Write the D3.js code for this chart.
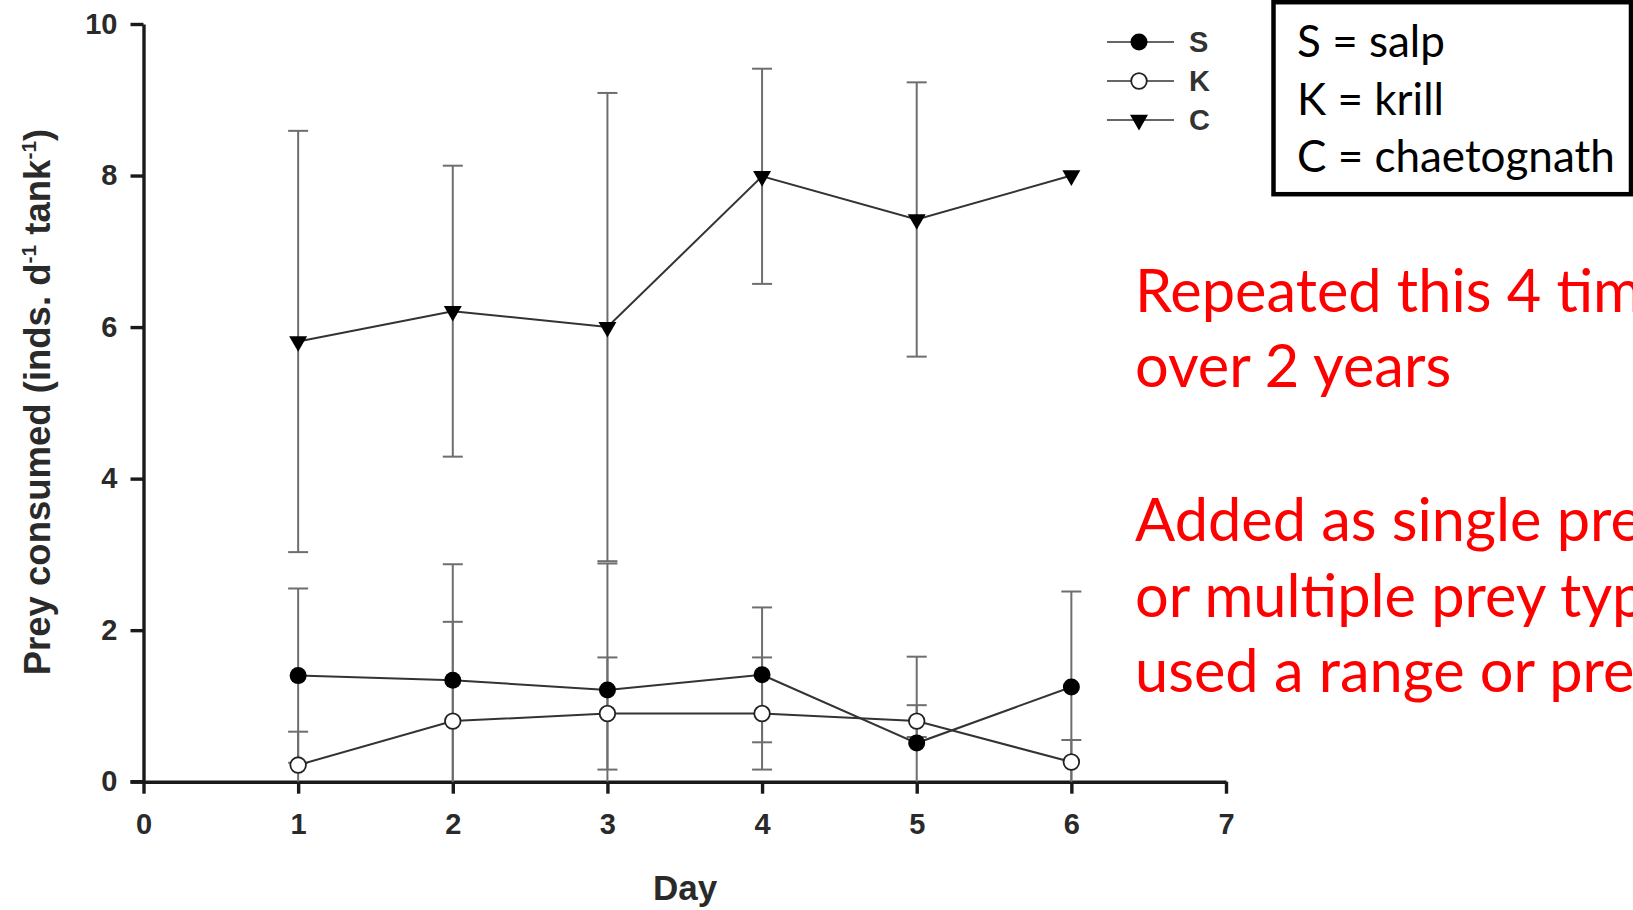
<!DOCTYPE html>
<html>
<head>
<meta charset="utf-8">
<script src="https://cdn.jsdelivr.net/npm/d3@7"></script>
<style>
  html, body { margin: 0; padding: 0; background: #fff; overflow: hidden; }
  svg { display: block; }
</style>
</head>
<body>
<svg id="chart" width="1633" height="910"></svg>
<script>
// ---- data ----
const days = [1, 2, 3, 4, 5, 6];
const salp = [1.40, 1.34, 1.21, 1.41, 0.51, 1.25];
const salpErr = [1.15, 1.53, 1.67, 0.89, 1.14, 1.26];
const krill = [0.22, 0.80, 0.90, 0.90, 0.80, 0.26];
const krillErr = [0.44, 1.31, 0.74, 0.74, 0.21, 0.29];
const chaet = [5.81, 6.21, 6.00, 7.99, 7.42, 8.00];
const chaetErr = [2.78, 1.92, 3.09, 1.42, 1.81, 0];
const xTicks = [0, 1, 2, 3, 4, 5, 6, 7];
const yTicks = [0, 2, 4, 6, 8, 10];
const legendKeys = ["S", "K", "C"];
const boxLines = ["S = salp", "K = krill", "C = chaetognath"];
const noteLines1 = ["Repeated this 4 times", "over 2 years"];
const noteLines2 = ["Added as single prey", "or multiple prey types", "used a range or prey"];

const svg = d3.select("#chart");
const x = d3.scaleLinear().domain([0, 7]).range([143.5, 1226]);
const y = d3.scaleLinear().domain([0, 10]).range([781.7, 24]);

const series = [
  { key: "S", vals: salp, errs: salpErr, type: "filled" },
  { key: "K", vals: krill, errs: krillErr, type: "open" },
  { key: "C", vals: chaet, errs: chaetErr, type: "tri" }
];

const axisFont = "'Liberation Sans', Arial, sans-serif";

// ---- axes ----
const yAxis = svg.append("g").attr("transform", `translate(${x(0)},0)`)
  .call(d3.axisLeft(y).tickValues(yTicks).tickSize(13).tickSizeOuter(0).tickPadding(13).tickFormat(d3.format("d")));
const xAxis = svg.append("g").attr("transform", `translate(0,${y(0)})`)
  .call(d3.axisBottom(x).tickValues(xTicks).tickSize(12).tickSizeOuter(0).tickPadding(20).tickFormat(d3.format("d")));
[yAxis, xAxis].forEach(a => {
  a.select(".domain").attr("stroke", "#1a1a1a").attr("stroke-width", 3.4);
  a.selectAll(".tick line").attr("stroke", "#1a1a1a").attr("stroke-width", 3.4);
  a.selectAll(".tick text").attr("fill", "#2a2a2a").style("font-family", axisFont)
    .style("font-weight", "bold").style("font-size", "29px");
});
// extend x-axis to the left so it meets the y-axis ticks
svg.append("line").attr("x1", x(0) - 13).attr("x2", x(0)).attr("y1", y(0)).attr("y2", y(0))
  .attr("stroke", "#1a1a1a").attr("stroke-width", 3.4);

// axis titles
svg.append("text").attr("x", 685).attr("y", 900).attr("text-anchor", "middle")
  .style("font-family", axisFont).style("font-weight", "bold").style("font-size", "35px")
  .attr("fill", "#2a2a2a").text("Day");

const yl = svg.append("text").attr("transform", "translate(50,402) rotate(-90)").attr("text-anchor", "middle")
  .style("font-family", axisFont).style("font-weight", "bold").style("font-size", "36.5px").attr("fill", "#2a2a2a");
yl.append("tspan").text("Prey consumed (inds. d");
yl.append("tspan").attr("dy", -14).style("font-size", "21px").text("-1");
yl.append("tspan").attr("dy", 14).text(" tank");
yl.append("tspan").attr("dy", -14).style("font-size", "21px").text("-1");
yl.append("tspan").attr("dy", 14).text(")");

// ---- error bars ----
const capW = 10;
series.forEach(s => {
  const g = svg.append("g").attr("stroke", "#6e6e6e").attr("stroke-width", 2).attr("fill", "none");
  days.forEach((d, i) => {
    const v = s.vals[i], e = s.errs[i];
    if (e <= 0) return;
    const lo = Math.max(0, v - e), hi = v + e;
    g.append("line").attr("x1", x(d)).attr("x2", x(d)).attr("y1", y(lo)).attr("y2", y(hi));
    g.append("line").attr("x1", x(d) - capW).attr("x2", x(d) + capW).attr("y1", y(hi)).attr("y2", y(hi));
    if (v - e >= 0)
      g.append("line").attr("x1", x(d) - capW).attr("x2", x(d) + capW).attr("y1", y(v - e)).attr("y2", y(v - e));
  });
});

// ---- lines ----
const line = d3.line().x(d => x(d[0])).y(d => y(d[1]));
series.forEach(s => {
  svg.append("path").datum(days.map((d, i) => [d, s.vals[i]]))
    .attr("d", line).attr("fill", "none").attr("stroke", "#333").attr("stroke-width", 2);
});

// ---- markers ----
const tri = d3.symbol(d3.symbolTriangle, 140);
function drawMarker(g, type, cx, cy) {
  if (type === "filled") {
    g.append("circle").attr("cx", cx).attr("cy", cy).attr("r", 8.5).attr("fill", "#000");
  } else if (type === "open") {
    g.append("circle").attr("cx", cx).attr("cy", cy).attr("r", 7.8).attr("fill", "#fff")
      .attr("stroke", "#222").attr("stroke-width", 1.8);
  } else {
    g.append("path").attr("d", tri()).attr("fill", "#000")
      .attr("transform", `translate(${cx},${cy}) rotate(180)`);
  }
}
series.forEach(s => {
  const g = svg.append("g");
  days.forEach((d, i) => drawMarker(g, s.type, x(d), y(s.vals[i])));
});

// ---- legend ----
const legY = d3.scalePoint().domain(legendKeys).range([42, 120]);
legendKeys.forEach((k, i) => {
  const s = series[i];
  const cy = legY(k);
  svg.append("line").attr("x1", 1107).attr("x2", 1174).attr("y1", cy).attr("y2", cy)
    .attr("stroke", "#666").attr("stroke-width", 2);
  drawMarker(svg, s.type, 1139, cy);
  svg.append("text").attr("x", 1189).attr("y", cy).attr("dy", "0.36em")
    .style("font-family", axisFont).style("font-weight", "bold").style("font-size", "29px")
    .attr("fill", "#333").text(k);
});

// ---- definition box ----
svg.append("rect").attr("x", 1273.5).attr("y", 2.2).attr("width", 357.5).attr("height", 192)
  .attr("fill", "none").attr("stroke", "#000").attr("stroke-width", 4.5);
const boxY = d3.scalePoint().domain(boxLines).range([57, 172]);
boxLines.forEach(t => {
  svg.append("text").attr("x", 1297).attr("y", boxY(t))
    .style("font-family", "Lato, 'Open Sans', sans-serif").style("font-size", "44px")
    .attr("fill", "#000").text(t);
});

// ---- red notes ----
const noteFont = "Lato, 'Open Sans', sans-serif";
const n1 = d3.scalePoint().domain(noteLines1).range([312, 387]);
noteLines1.forEach(t => {
  svg.append("text").attr("x", 1135).attr("y", n1(t)).style("font-family", noteFont)
    .style("font-size", "59.5px").attr("fill", "#ff0000").text(t);
});
const n2 = d3.scalePoint().domain(noteLines2).range([541, 692]);
noteLines2.forEach(t => {
  svg.append("text").attr("x", 1135).attr("y", n2(t)).style("font-family", noteFont)
    .style("font-size", "59.5px").attr("fill", "#ff0000").text(t);
});
</script>
</body>
</html>
